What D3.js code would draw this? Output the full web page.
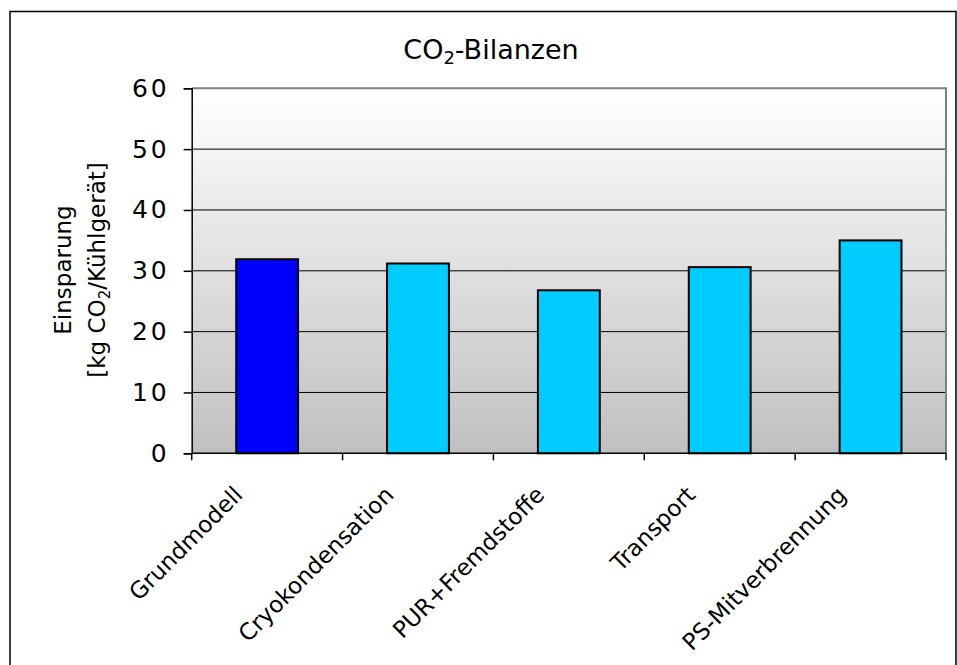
<!DOCTYPE html>
<html>
<head>
<meta charset="utf-8">
<script src="https://cdn.jsdelivr.net/npm/d3@7/dist/d3.min.js"></script>
<style>
  html, body { margin: 0; padding: 0; background: #fff; }
  svg { display: block; }
  text { font-family: "DejaVu Sans", sans-serif; fill: #000; }
</style>
</head>
<body>
<svg id="chart" width="957" height="665"></svg>
<script>
// CO2 balance per refrigerator, by scenario
const categories = ["Grundmodell", "Cryokondensation", "PUR+Fremdstoffe", "Transport", "PS-Mitverbrennung"];
const values = [31.9, 31.2, 26.8, 30.6, 35.0];
const barColors = ["#0000FF", "#00CCFF", "#00CCFF", "#00CCFF", "#00CCFF"];
const yTicks = [0, 10, 20, 30, 40, 50, 60];

const svg = d3.select("#chart");
const plot = { left: 191.7, right: 946, top: 88.3, bottom: 453.3 };

// outer chart frame
svg.append("rect")
  .attr("x", 10).attr("y", 11.5)
  .attr("width", 946).attr("height", 700)
  .attr("fill", "#fff").attr("stroke", "#000").attr("stroke-width", 1.5);

const x = d3.scaleBand()
  .domain(categories)
  .range([plot.left, plot.right])
  .paddingInner(0.59)
  .paddingOuter(0.295);

const y = d3.scaleLinear()
  .domain([0, 60])
  .range([plot.bottom, plot.top]);

// plot background gradient
const defs = svg.append("defs");
const grad = defs.append("linearGradient")
  .attr("id", "bg").attr("x1", 0).attr("y1", 0).attr("x2", 0).attr("y2", 1);
grad.append("stop").attr("offset", "0%").attr("stop-color", "#FFFFFF");
grad.append("stop").attr("offset", "100%").attr("stop-color", "#C0C0C0");

svg.append("rect")
  .attr("x", plot.left).attr("y", plot.top)
  .attr("width", plot.right - plot.left).attr("height", plot.bottom - plot.top)
  .attr("fill", "url(#bg)");

// horizontal gridlines
svg.append("g")
  .selectAll("line")
  .data(yTicks.filter(d => d > 0 && d < 60))
  .join("line")
  .attr("x1", plot.left).attr("x2", plot.right)
  .attr("y1", d => y(d)).attr("y2", d => y(d))
  .attr("stroke", "#000").attr("stroke-width", 1);

// top and right plot border
svg.append("path")
  .attr("d", `M${plot.left},${plot.top}H${plot.right}V${plot.bottom}`)
  .attr("fill", "none").attr("stroke", "#808080").attr("stroke-width", 2);

// bars
svg.append("g")
  .selectAll("rect")
  .data(categories.map((c, i) => ({ c, v: values[i], color: barColors[i] })))
  .join("rect")
  .attr("x", d => x(d.c))
  .attr("y", d => y(d.v))
  .attr("width", x.bandwidth())
  .attr("height", d => y(0) - y(d.v))
  .attr("fill", d => d.color)
  .attr("stroke", "#000").attr("stroke-width", 2);

// y axis
const yAxis = svg.append("g")
  .attr("transform", `translate(${plot.left},0)`)
  .call(d3.axisLeft(y).tickValues(yTicks).tickSize(8).tickPadding(14));
yAxis.select(".domain").attr("stroke", "#000").attr("stroke-width", 1.5);
yAxis.selectAll(".tick line").attr("stroke", "#000").attr("stroke-width", 1.5);
yAxis.selectAll(".tick text")
  .attr("font-size", 25).attr("letter-spacing", 3)
  .attr("font-family", "DejaVu Sans").attr("fill", "#000");

// x axis: ticks at band boundaries
const boundaries = categories.map(c => x(c) - x.step() * x.paddingInner() / 2)
  .concat([plot.right]);
boundaries[0] = plot.left;
svg.append("line")
  .attr("x1", plot.left).attr("x2", plot.right)
  .attr("y1", plot.bottom).attr("y2", plot.bottom)
  .attr("stroke", "#000").attr("stroke-width", 1.5);
svg.append("g")
  .selectAll("line")
  .data(boundaries)
  .join("line")
  .attr("x1", d => d).attr("x2", d => d)
  .attr("y1", plot.bottom).attr("y2", plot.bottom + 7)
  .attr("stroke", "#000").attr("stroke-width", 1.5);

// rotated category labels
svg.append("g")
  .selectAll("text")
  .data(categories)
  .join("text")
  .attr("transform", d => `translate(${x(d) + x.bandwidth() / 2 - 23},${plot.bottom + 43}) rotate(-45)`)
  .attr("text-anchor", "end")
  .attr("font-size", 23)
  .text(d => d);

// title
const title = svg.append("text")
  .attr("x", 491).attr("y", 59)
  .attr("text-anchor", "middle")
  .attr("font-size", 27);
title.append("tspan").text("CO");
title.append("tspan").attr("font-size", 18).attr("dy", 5).text("2");
title.append("tspan").attr("dy", -5).text("-Bilanzen");

// y axis title, two lines
const yt = svg.append("text")
  .attr("transform", "translate(0,270) rotate(-90)")
  .attr("text-anchor", "middle")
  .attr("font-size", 23);
yt.append("tspan").attr("x", 0).attr("y", 71).text("Einsparung");
const l2 = yt.append("tspan").attr("x", 0).attr("y", 105);
l2.append("tspan").text("[kg CO");
l2.append("tspan").attr("font-size", 15).attr("dy", 5).text("2");
l2.append("tspan").attr("dy", -5).text("/Kühlgerät]");
</script>
</body>
</html>
